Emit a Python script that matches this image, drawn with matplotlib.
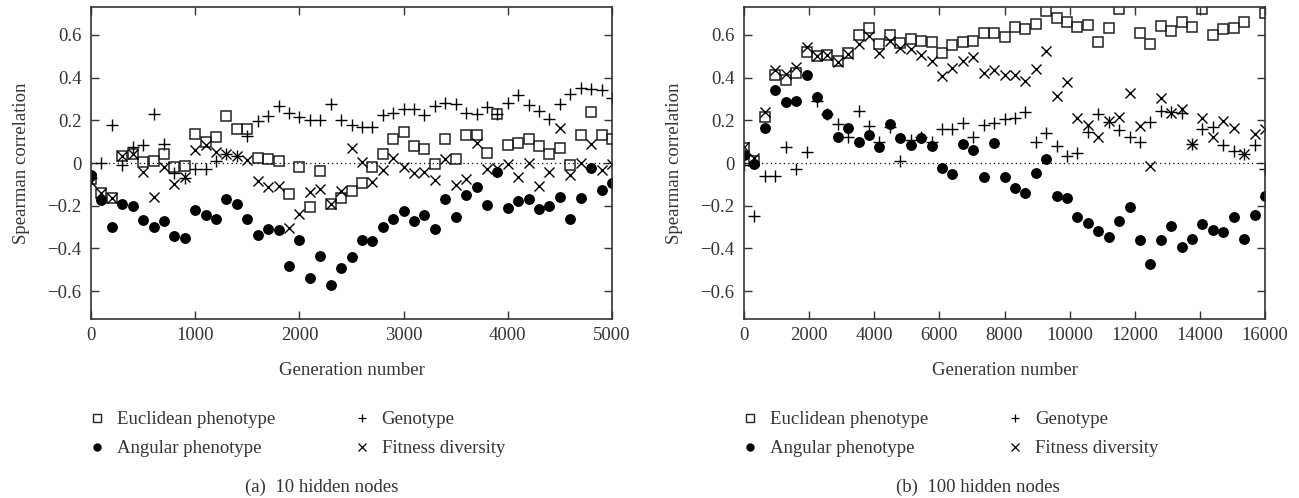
import matplotlib
matplotlib.use('AGG')
import matplotlib.pyplot as plt
from matplotlib.lines import Line2D
from matplotlib.ticker import FuncFormatter
import numpy as np

# generation numbers (sampled every 100 / 320 generations)
gens_a = list(range(0, 5001, 100))
gens_b = list(range(0, 16001, 320))

# (a) 10 hidden nodes
euc_a = [-0.075, -0.14, -0.165, 0.035, 0.04, 0.005, 0.01, 0.04, -0.02, -0.015,
         0.135, 0.10, 0.12, 0.22, 0.16, 0.16, 0.025, 0.02, 0.01, -0.147,
         -0.017, -0.206, -0.036, -0.19, -0.165, -0.13, -0.095, -0.02, 0.04, 0.11,
         0.145, 0.08, 0.065, -0.005, 0.11, 0.02, 0.13, 0.13, 0.045, 0.23,
         0.085, 0.095, 0.11, 0.08, 0.04, 0.07, -0.01, 0.13, 0.24, 0.13, 0.11]
ang_a = [-0.055, -0.175, -0.30, -0.19, -0.20, -0.265, -0.30, -0.27, -0.34, -0.35,
         -0.22, -0.245, -0.26, -0.17, -0.19, -0.26, -0.335, -0.31, -0.315, -0.48,
         -0.36, -0.54, -0.435, -0.57, -0.49, -0.44, -0.36, -0.365, -0.30, -0.26,
         -0.225, -0.27, -0.245, -0.31, -0.17, -0.255, -0.15, -0.11, -0.195, -0.04,
         -0.21, -0.18, -0.17, -0.215, -0.20, -0.16, -0.26, -0.165, -0.025, -0.125, -0.095]
geno_a = [-0.07, 0.0, 0.18, -0.01, 0.075, 0.085, 0.23, 0.09, -0.045, -0.07,
          -0.03, -0.03, 0.01, 0.04, 0.035, 0.125, 0.195, 0.22, 0.267, 0.233,
          0.217, 0.2, 0.2, 0.275, 0.2, 0.18, 0.17, 0.17, 0.225, 0.233,
          0.255, 0.255, 0.225, 0.266, 0.283, 0.277, 0.233, 0.227, 0.264, 0.228,
          0.283, 0.317, 0.27, 0.245, 0.208, 0.277, 0.322, 0.353, 0.345, 0.342, 0.303]
fit_a = [-0.09, -0.14, -0.165, 0.035, 0.04, -0.04, -0.16, -0.02, -0.097, -0.067,
         0.06, 0.083, 0.05, 0.04, 0.035, 0.013, -0.085, -0.11, -0.108, -0.303,
         -0.24, -0.138, -0.12, -0.19, -0.13, 0.072, 0.003, -0.087, -0.034, 0.023,
         -0.02, -0.045, -0.044, -0.08, 0.019, -0.105, -0.075, 0.095, -0.03, -0.025,
         -0.005, -0.067, -0.002, -0.106, -0.042, 0.163, -0.055, -0.002, 0.088, -0.034, -0.003]

# (b) 100 hidden nodes
euc_b = [0.07, 0.008, 0.217, 0.41, 0.39, 0.42, 0.52, 0.50, 0.505, 0.477,
         0.515, 0.60, 0.63, 0.555, 0.597, 0.56, 0.58, 0.57, 0.565, 0.515,
         0.55, 0.567, 0.573, 0.61, 0.61, 0.59, 0.636, 0.627, 0.65, 0.712,
         0.68, 0.66, 0.637, 0.647, 0.565, 0.63, 0.72, 0.76, 0.61, 0.555,
         0.64, 0.62, 0.66, 0.635, 0.72, 0.597, 0.625, 0.63, 0.66, 0.76, 0.70]
ang_b = [0.036, -0.006, 0.166, 0.342, 0.286, 0.292, 0.41, 0.31, 0.23, 0.12,
         0.164, 0.10, 0.13, 0.077, 0.184, 0.116, 0.083, 0.116, 0.08, -0.025,
         -0.05, 0.09, 0.06, -0.064, 0.092, -0.064, -0.115, -0.14, -0.047, 0.02,
         -0.155, -0.163, -0.253, -0.283, -0.317, -0.344, -0.27, -0.208, -0.358, -0.473,
         -0.358, -0.297, -0.392, -0.356, -0.284, -0.313, -0.325, -0.252, -0.355, -0.245, -0.156]
geno_b = [-0.01, -0.247, -0.06, -0.06, 0.075, -0.03, 0.05, 0.29, 0.23, 0.183,
          0.123, 0.244, 0.175, 0.098, 0.17, 0.01, 0.108, 0.12, 0.1, 0.16,
          0.16, 0.187, 0.123, 0.178, 0.187, 0.206, 0.21, 0.24, 0.097, 0.14,
          0.08, 0.033, 0.048, 0.147, 0.23, 0.192, 0.155, 0.123, 0.098, 0.194,
          0.245, 0.24, 0.233, 0.09, 0.16, 0.17, 0.083, 0.058, 0.044, 0.083, -0.03]
fit_b = [0.075, 0.025, 0.24, 0.433, 0.417, 0.448, 0.542, 0.50, 0.505, 0.473,
         0.51, 0.556, 0.595, 0.517, 0.573, 0.54, 0.533, 0.506, 0.475, 0.408,
         0.444, 0.477, 0.494, 0.423, 0.434, 0.413, 0.413, 0.384, 0.44, 0.525,
         0.314, 0.38, 0.21, 0.177, 0.123, 0.195, 0.217, 0.327, 0.173, -0.013,
         0.306, 0.236, 0.252, 0.09, 0.21, 0.12, 0.195, 0.163, 0.044, 0.136, 0.16]

labels = ['Euclidean phenotype', 'Angular phenotype', 'Genotype', 'Fitness diversity']
captions = ['(a)  10 hidden nodes', '(b)  100 hidden nodes']

FS = 13.5
TXT = '#333333'


def fmt_y(v, pos):
    if abs(v) < 1e-9:
        return '0'
    return ('%.1f' % v).replace('-', '\u2212')


def draw_panel(fig, rect, gens, euc, ang, geno, fit, xticks, caption, cap_x):
    ax = fig.add_axes(rect)
    ax.plot(gens, euc, linestyle='none', marker='s', markersize=7.5, markerfacecolor='none',
            markeredgecolor='#222222', markeredgewidth=1.1)
    ax.plot(gens, ang, linestyle='none', marker='o', markersize=6.8, color='black')
    ax.plot(gens, geno, linestyle='none', marker='+', markersize=8, color='black', markeredgewidth=1.0)
    ax.plot(gens, fit, linestyle='none', marker='x', markersize=7, color='black', markeredgewidth=1.0)
    ax.axhline(0, color='black', linestyle=(0, (1, 2.5)), linewidth=0.9)

    ax.set_xlim(xticks[0], xticks[-1])
    ax.set_ylim(-0.73, 0.73)
    ax.set_xticks(xticks)
    ax.set_xticklabels([str(t) for t in xticks])
    ax.set_yticks([-0.6, -0.4, -0.2, 0, 0.2, 0.4, 0.6])
    ax.yaxis.set_major_formatter(FuncFormatter(fmt_y))
    ax.tick_params(direction='in', length=6, width=1.0, top=True, right=True,
                   labelsize=FS, colors=TXT, pad=6)
    ax.tick_params(axis='y', pad=7)
    for sp in ax.spines.values():
        sp.set_linewidth(1.2)
        sp.set_color(TXT)
    ax.set_xlabel('Generation number', fontsize=FS, color=TXT)
    ax.set_ylabel('Spearman correlation', fontsize=FS, color=TXT)
    ax.xaxis.set_label_coords(0.5, -0.138)
    ax.yaxis.set_label_coords(-0.118, 0.5)

    handles = [
        Line2D([], [], linestyle='none', marker='s', markersize=5.5, markerfacecolor='none',
               markeredgecolor='#222222', markeredgewidth=1.0),
        Line2D([], [], linestyle='none', marker='o', markersize=5, color='black'),
        Line2D([], [], linestyle='none', marker='+', markersize=6, color='black', markeredgewidth=0.9),
        Line2D([], [], linestyle='none', marker='x', markersize=5.5, color='black', markeredgewidth=0.9),
    ]
    x0 = rect[0] - 2.5 / 1299
    leg = ax.legend(handles, labels, ncol=2, loc='upper left', bbox_to_anchor=(x0, 1 - 411 / 498),
                    bbox_transform=fig.transFigure, frameon=False, fontsize=FS,
                    handlelength=0.9, handletextpad=0.6, columnspacing=4.2,
                    labelspacing=0.63, borderaxespad=0, borderpad=0)
    for t in leg.get_texts():
        t.set_color(TXT)
    fig.text(cap_x, 1 - 487 / 498, caption, ha='center', va='center', fontsize=FS, color=TXT)
    return ax


def main():
    plt.rcParams['font.family'] = ['Liberation Serif', 'DejaVu Serif']
    fig = plt.figure(figsize=(12.99, 4.98), dpi=100)
    bottom = (498 - 319) / 498
    height = 312 / 498
    width = 521 / 1299
    draw_panel(fig, [91 / 1299, bottom, width, height], gens_a, euc_a, ang_a, geno_a, fit_a,
               [0, 1000, 2000, 3000, 4000, 5000], captions[0], 322 / 1299)
    draw_panel(fig, [744 / 1299, bottom, width, height], gens_b, euc_b, ang_b, geno_b, fit_b,
               [0, 2000, 4000, 6000, 8000, 10000, 12000, 14000, 16000], captions[1], 978 / 1299)
    fig.savefig('out.png', dpi=100)


if "__main__" in __name__:
    main()
